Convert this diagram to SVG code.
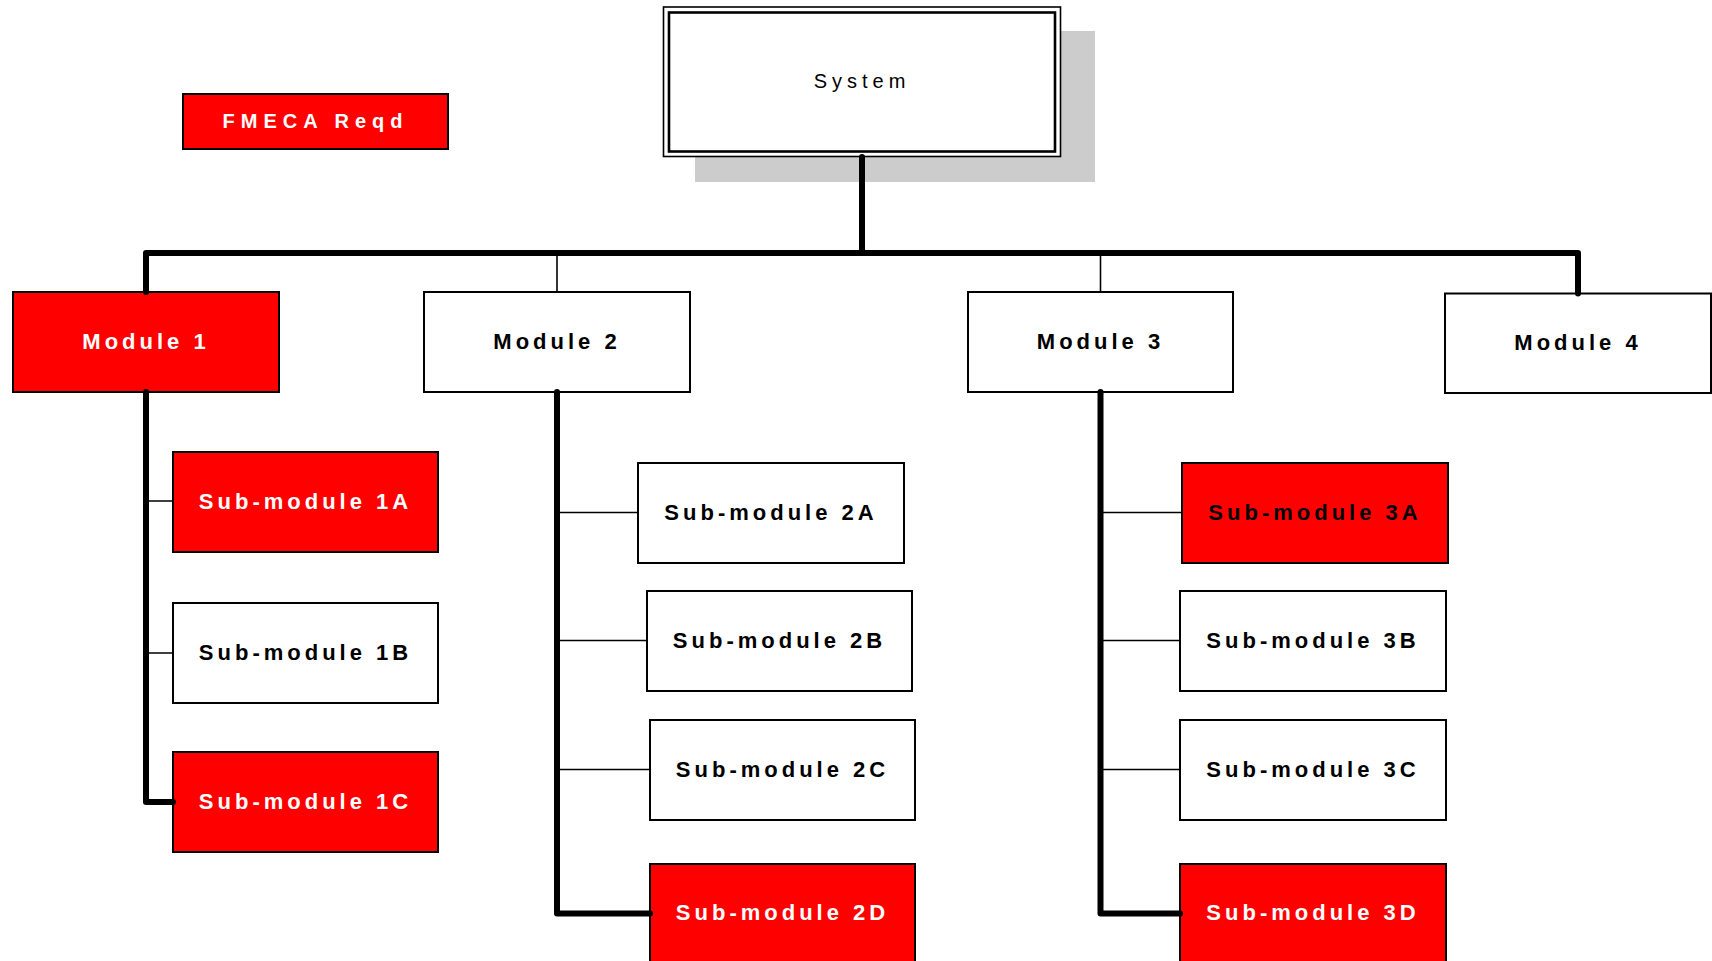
<svg xmlns="http://www.w3.org/2000/svg" width="1712" height="961" viewBox="0 0 1712 961">
<style>
.box{stroke:#000;stroke-width:2}
.red{fill:#ff0000}
.white{fill:#ffffff}
.lbl{font-family:"Liberation Sans",Arial,sans-serif;font-size:22px;font-weight:bold;letter-spacing:4px;text-anchor:middle}
.lw{fill:#ffffff}
.lb{fill:#000000}
.thick{fill:none;stroke:#000;stroke-width:6;stroke-linecap:round;stroke-linejoin:round}
.thin{fill:none;stroke:#000;stroke-width:1.6}
</style>
<rect x="0" y="0" width="1712" height="961" fill="#ffffff"/>
<g id="legend-fmeca">
<rect class="box red" x="183" y="94" width="265" height="55"/>
<text class="lbl lw" x="315.5" y="128" style="font-size:20px;letter-spacing:6px">FMECA Reqd</text>
</g>
<g id="system">
<rect x="695" y="31" width="400" height="151" fill="#cccccc"/>
<rect x="663.5" y="7" width="397" height="149.5" fill="#ffffff" stroke="#000" stroke-width="1.6"/>
<rect x="669" y="12.5" width="386" height="139" fill="none" stroke="#000" stroke-width="2.6"/>
<text x="862" y="88" style="font-family:'Liberation Sans',Arial,sans-serif;font-size:20px;letter-spacing:5px;text-anchor:middle" fill="#000">System</text>
</g>
<g id="module1">
<rect class="box red" x="13" y="292" width="266" height="100"/>
<text class="lbl lw" x="146" y="349">Module 1</text>
</g>
<g id="module2">
<rect class="box white" x="424" y="292" width="266" height="100"/>
<text class="lbl lb" x="557" y="349">Module 2</text>
</g>
<g id="module3">
<rect class="box white" x="968" y="292" width="265" height="100"/>
<text class="lbl lb" x="1100.5" y="349">Module 3</text>
</g>
<g id="module4">
<rect class="box white" x="1445" y="293.5" width="266" height="99.5"/>
<text class="lbl lb" x="1578" y="350">Module 4</text>
</g>
<g id="sub1a">
<rect class="box red" x="173" y="452" width="265" height="100"/>
<text class="lbl lw" x="305.5" y="508.5">Sub-module 1A</text>
</g>
<g id="sub1b">
<rect class="box white" x="173" y="603" width="265" height="100"/>
<text class="lbl lb" x="305.5" y="659.5">Sub-module 1B</text>
</g>
<g id="sub1c">
<rect class="box red" x="173" y="752" width="265" height="100"/>
<text class="lbl lw" x="305.5" y="808.5">Sub-module 1C</text>
</g>
<g id="sub2a">
<rect class="box white" x="638" y="463" width="266" height="100"/>
<text class="lbl lb" x="771" y="519.5">Sub-module 2A</text>
</g>
<g id="sub2b">
<rect class="box white" x="647" y="591" width="265" height="100"/>
<text class="lbl lb" x="779.5" y="647.5">Sub-module 2B</text>
</g>
<g id="sub2c">
<rect class="box white" x="650" y="720" width="265" height="100"/>
<text class="lbl lb" x="782.5" y="776.5">Sub-module 2C</text>
</g>
<g id="sub2d">
<rect class="box red" x="650" y="864" width="265" height="112"/>
<text class="lbl lw" x="782.5" y="919.5">Sub-module 2D</text>
</g>
<g id="sub3a">
<rect class="box red" x="1182" y="463" width="266" height="100"/>
<text class="lbl lb" x="1315" y="519.5">Sub-module 3A</text>
</g>
<g id="sub3b">
<rect class="box white" x="1180" y="591" width="266" height="100"/>
<text class="lbl lb" x="1313" y="647.5">Sub-module 3B</text>
</g>
<g id="sub3c">
<rect class="box white" x="1180" y="720" width="266" height="100"/>
<text class="lbl lb" x="1313" y="776.5">Sub-module 3C</text>
</g>
<g id="sub3d">
<rect class="box red" x="1180" y="864" width="266" height="112"/>
<text class="lbl lw" x="1313" y="919.5">Sub-module 3D</text>
</g>
<g id="connectors">
<path class="thick" d="M862,157 V253"/>
<path class="thick" d="M146,292 V253 H1578 V293.5"/>
<path class="thin" d="M557,253 V292"/>
<path class="thin" d="M1100.5,253 V292"/>
<path class="thick" d="M146,392 V802 H173"/>
<path class="thin" d="M146,501 H173 M146,653 H173"/>
<path class="thick" d="M557,392 V913.5 H650"/>
<path class="thin" d="M557,512.5 H638 M557,640.5 H647 M557,769.5 H650"/>
<path class="thick" d="M1100.5,392 V913.5 H1180"/>
<path class="thin" d="M1100.5,512.5 H1182 M1100.5,640.5 H1180 M1100.5,769.5 H1180"/>
</g>
</svg>
